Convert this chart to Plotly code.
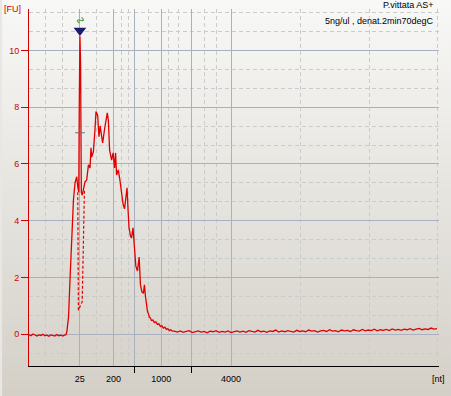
import numpy as np
import plotly.graph_objects as go

# ---------------- data (migration time in s, fluorescence in FU) ----------------
left_base_t0, left_base_dt = 18.375, 0.25
left_base_fu = [-0.02, -0.05, 0.01, -0.03, -0.06, -0.02, -0.04, 0.0, -0.05, -0.03,
                -0.07, -0.02, -0.04, -0.06, -0.01, -0.05, -0.03, -0.06, -0.02]

main_t = [23.0, 23.125, 23.34, 23.54, 23.75, 23.96, 24.16, 24.375, 24.5, 24.625,
          24.69, 24.775, 24.85, 24.95, 25.06, 25.34, 25.41, 25.625, 25.84, 26.04,
          26.16, 26.25, 26.46, 26.66, 26.79, 27.0, 27.16, 27.31, 27.5, 27.625,
          27.91, 28.125, 28.21, 28.34, 28.5, 28.75, 28.94, 29.125, 29.25, 29.375,
          29.59, 29.79, 30.0, 30.19, 30.375, 30.56, 30.69, 30.81, 30.94, 31.125,
          31.25, 31.44, 31.625, 31.79, 32.0, 32.21, 32.375, 32.56, 32.75, 32.875,
          33.0, 33.125, 33.25, 33.375, 33.5, 33.625, 33.75, 33.94, 34.125, 34.31,
          34.5, 34.69, 34.875, 35.06, 35.25, 35.44, 35.625, 35.81, 36.0, 36.19, 36.375]
main_fu = [-0.02, 0.08, 0.61, 2.03, 3.57, 4.74, 5.34, 5.55, 5.2, 5.0,
           8.1, 10.5, 9.6, 5.0, 4.9, 5.25, 5.37, 5.44, 5.97, 5.86,
           6.57, 6.24, 6.43, 7.2, 7.85, 7.71, 6.96, 7.34, 6.85, 6.74,
           7.31, 7.73, 7.8, 7.55, 6.49, 6.14, 6.39, 5.86, 6.39, 5.61,
           5.79, 5.44, 4.91, 4.59, 4.42, 4.91, 5.16, 4.42, 3.75, 3.46,
           3.39, 3.75, 3.11, 2.41, 2.23, 2.72, 1.74, 1.49, 1.46, 1.74,
           1.35, 1.03, 0.82, 0.72, 0.60, 0.58, 0.49, 0.50, 0.41, 0.44,
           0.35, 0.37, 0.28, 0.30, 0.22, 0.25, 0.17, 0.20, 0.13, 0.16, 0.11]

right_base_t0, right_base_dt = 36.625, 0.375
right_base_fu = [0.11, 0.08, 0.12, 0.07, 0.10, 0.13, 0.06, 0.09, 0.12, 0.08,
                 0.10, 0.05, 0.11, 0.09, 0.13, 0.07, 0.10, 0.08, 0.12, 0.06,
                 0.09, 0.12, 0.08, 0.11, 0.07, 0.13, 0.10, 0.08, 0.14, 0.09,
                 0.11, 0.07, 0.12, 0.10, 0.15, 0.08, 0.12, 0.09, 0.13, 0.11,
                 0.08, 0.14, 0.10, 0.12, 0.09, 0.15, 0.11, 0.13, 0.08, 0.12,
                 0.14, 0.10, 0.16, 0.11, 0.13, 0.09, 0.15, 0.12, 0.14, 0.10,
                 0.16, 0.13, 0.11, 0.17, 0.12, 0.15, 0.13, 0.18, 0.12, 0.16,
                 0.14, 0.17, 0.13, 0.19, 0.15, 0.17, 0.14, 0.18, 0.16, 0.20,
                 0.15, 0.18, 0.21, 0.16, 0.19, 0.17, 0.22, 0.18, 0.20]

# baseline-fit (dashed) under the lower marker
marker_base_t = [24.5, 24.58, 25.06, 25.34]
marker_base_fu = [5.0, 0.85, 1.15, 5.1]
marker_level_fu = 7.1

# size ladder
major_tick_t = [24.75, 29.0, 31.625, 35.0, 38.75, 43.75]
major_tick_txt = ["25", "200", "", "1000", "", "4000"]
unlabeled_tick_t = [31.625, 38.75]
minor_grid_t = [20.5, 22.625, 26.875, 30.0, 30.875, 33.375, 35.875, 37.125,
                40.375, 41.875, 52.5, 61.125, 69.625]
y_major = [0, 2, 4, 6, 8, 10]
y_minor = [-2/3, 2/3, 4/3, 8/3, 10/3, 14/3, 16/3, 20/3, 22/3, 26/3, 28/3, 32/3, 34/3]

title1 = "P.vittata AS+"
title2 = "5ng/ul , denat.2min70degC"

# ---------------- build ----------------
left_t = left_base_t0 + left_base_dt * np.arange(len(left_base_fu))
right_t = right_base_t0 + right_base_dt * np.arange(len(right_base_fu))
t_all = np.concatenate([left_t, main_t, right_t])
fu_all = np.concatenate([left_base_fu, main_fu, right_base_fu])

W, H = 451, 396
ML, MR, MT, MB = 27, 12, 9, 30
PW, PH = W - ML - MR, H - MT - MB
XR = [18.375, 69.875]
YR = [-1.117, 11.46]
FONT = "Liberation Sans"
RED = "#e00000"

fig = go.Figure()

# gradient background strips
shapes = []
n = 48
c0 = np.array([248, 248, 246])
c1 = np.array([212, 208, 200])
for i in range(n):
    py0 = H * i / n
    py1 = H * (i + 1) / n
    f = (i + 0.5) / n
    c = (c0 + (c1 - c0) * f).round().astype(int)
    shapes.append(dict(type="rect", xref="paper", yref="paper", layer="below",
                       x0=-ML / PW, x1=(W - ML) / PW,
                       y0=(H - MB - py1) / PH, y1=(H - MB - py0) / PH + 0.001,
                       fillcolor=f"rgb({c[0]},{c[1]},{c[2]})", line=dict(width=0)))

fig.add_trace(go.Scatter(x=t_all, y=fu_all, mode="lines",
                         line=dict(color=RED, width=1.3), hoverinfo="skip"))
fig.add_trace(go.Scatter(x=marker_base_t, y=marker_base_fu, mode="lines",
                         line=dict(color=RED, width=1.2, dash="3px,2px"), hoverinfo="skip"))

ipk = int(np.argmax(fu_all))
pk_t, pk_fu = float(t_all[ipk]), float(fu_all[ipk])
fig.add_trace(go.Scatter(x=[pk_t], y=[marker_level_fu], mode="markers",
                         marker=dict(symbol="line-ew", size=7,
                                     line=dict(color="#707070", width=1)), hoverinfo="skip"))
fig.add_trace(go.Scatter(x=[pk_t], y=[pk_fu + 0.2], mode="markers",
                         marker=dict(symbol="triangle-down", size=11, color="#1c1c6e",
                                     line=dict(width=0)), hoverinfo="skip"))
fig.add_trace(go.Scatter(x=[], y=[], xaxis="x2", hoverinfo="skip"))

annotations = [
    dict(x=pk_t, y=pk_fu, xref="x", yref="y", text="∿", showarrow=False,
         yshift=16, textangle=-60, font=dict(color="#2a8a2a", size=11, family=FONT)),
    dict(x=(436 - ML) / PW, y=(H - MB - 5) / PH, xref="paper", yref="paper",
         xanchor="right", yanchor="middle", text=title1, showarrow=False,
         font=dict(size=9, color="black", family=FONT)),
    dict(x=(436 - ML) / PW, y=(H - MB - 21) / PH, xref="paper", yref="paper",
         xanchor="right", yanchor="middle", text=title2, showarrow=False,
         font=dict(size=9, color="black", family=FONT)),
    dict(x=-ML / PW, y=(H - MB - 9) / PH, xref="paper", yref="paper",
         xanchor="left", yanchor="middle", text="[FU]", showarrow=False,
         font=dict(size=9, color="#cc0000", family=FONT)),
    dict(x=(438 - ML) / PW, y=(H - MB - 379) / PH, xref="paper", yref="paper",
         xanchor="center", yanchor="middle", text="[nt]", showarrow=False,
         font=dict(size=9, color="black", family=FONT)),
]

fig.update_layout(
    width=W, height=H, margin=dict(l=ML, r=MR, t=MT, b=MB, pad=0),
    paper_bgcolor="rgb(232,231,228)", plot_bgcolor="rgba(0,0,0,0)",
    showlegend=False, shapes=shapes, annotations=annotations,
    font=dict(family=FONT, size=9),
    xaxis=dict(range=XR, showline=True, linecolor="black", linewidth=1,
               tickmode="array", tickvals=major_tick_t, ticktext=major_tick_txt,
               ticks="", ticklabelstandoff=4, tickfont=dict(size=9, color="black"),
               showgrid=True, gridcolor="#a9b0be", gridwidth=1, zeroline=False,
               minor=dict(tickmode="array", tickvals=minor_grid_t, showgrid=True,
                          gridcolor="#cbcbcb", griddash="4px,3px", ticks=""),
               fixedrange=True),
    xaxis2=dict(range=XR, overlaying="x", anchor="y", side="bottom",
                tickmode="array", tickvals=unlabeled_tick_t, ticks="outside",
                ticklen=6, tickcolor="black", tickwidth=1, showticklabels=False,
                showgrid=False, showline=False, zeroline=False, fixedrange=True),
    yaxis=dict(range=YR, showline=True, linecolor="#d00000", linewidth=1,
               tickmode="array", tickvals=y_major, ticks="outside", ticklen=7,
               tickcolor="#d00000", tickfont=dict(size=9, color="#cc0000"),
               showgrid=True, gridcolor="#a9b0be", gridwidth=1, zeroline=False,
               minor=dict(tickmode="array", tickvals=y_minor, showgrid=True,
                          gridcolor="#cbcbcb", griddash="4px,3px", ticks=""),
               fixedrange=True),
)

fig.write_html("out.html")
